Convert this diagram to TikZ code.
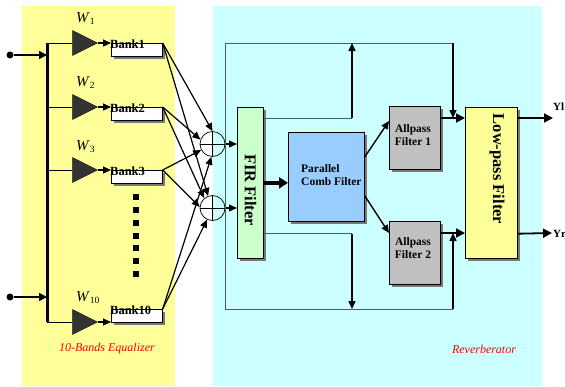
\documentclass[tikz,border=0pt]{standalone}
\usepackage{fontspec}
\setmainfont{Liberation Serif}
\usetikzlibrary{arrows.meta,shapes.geometric,shadows}
\definecolor{eqyellow}{RGB}{255,255,153}
\definecolor{revcyan}{RGB}{204,255,255}
\definecolor{firgreen}{RGB}{204,255,204}
\definecolor{combblue}{RGB}{153,204,255}
\definecolor{apgray}{RGB}{192,192,192}
\definecolor{loopcol}{RGB}{64,96,96}
\definecolor{shadowgray}{RGB}{120,120,120}
\begin{document}
\begin{tikzpicture}[x=1pt,y=-1pt,
  arr/.style={-{Triangle[length=8pt,width=7pt]}, line width=1.2pt},
  bigarr/.style={-{Triangle[length=9pt,width=9pt]}, line width=1.8pt},
  shbox/.style={draw=black, line width=0.7pt, inner sep=0pt, anchor=north west,
     drop shadow={shadow xshift=3pt, shadow yshift=-3pt, fill=shadowgray, opacity=1}},
  bankbox/.style={shbox, fill=white, minimum width=51pt, minimum height=13pt},
  banktxt/.style={font=\bfseries\fontsize{12.5}{13}\selectfont, inner sep=0pt, anchor=base west},
  gain/.style={isosceles triangle, isosceles triangle stretches, fill={rgb,255:red,51;green,51;blue,51},
     draw=black, line width=0.4pt, minimum width=25pt, minimum height=25pt, inner sep=0pt, anchor=apex},
  wlab/.style={font=\fontsize{15}{16}\selectfont, inner sep=0pt, anchor=base west},
  adder/.style={circle, draw=black, line width=0.7pt, minimum size=25pt, inner sep=0pt},
  rottxt/.style={rotate=-90, font=\bfseries\fontsize{16.5}{17}\selectfont, inner sep=0pt},
  boxtxt/.style={font=\bfseries\fontsize{11.5}{13.5}\selectfont, inner sep=0pt, align=left},
  loopline/.style={draw=loopcol, line width=1pt},
  redlab/.style={text=red, font=\itshape\fontsize{12}{12}\selectfont, inner sep=0pt},
  dot/.style={circle, fill=black, inner sep=0pt, minimum size=7pt}
]
\useasboundingbox (0,0) rectangle (565,386);
\fill[white] (0,0) rectangle (565,386);
\fill[eqyellow] (22,6) rectangle (175,386);
\fill[revcyan] (213,6) rectangle (542,386);

% ---------------- Equalizer ----------------
\node[dot] (in1) at (10,55) {};
\node[dot] (in2) at (10,297) {};
\coordinate (bt) at (47,43);
\coordinate (bb) at (47,322);
\coordinate (j1) at (47,55);
\coordinate (j2) at (47,297);
\draw[line width=3pt] (bt) -- (bb);
\draw[-{Triangle[length=8pt,width=8pt]}, line width=1.6pt] (in1) -- (j1);
\draw[-{Triangle[length=8pt,width=8pt]}, line width=1.6pt] (in2) -- (j2);

\foreach \n/\y/\ty/\lab/\sub/\wy in {1/43/43/Bank1/1/22, 2/107/107/Bank2/2/86, 3/170/170/Bank3/3/150, 10/322/309/Bank10/10/301}{
  \node[gain] (g\n) at (98,\y) {};
  \draw[line width=0.9pt] (47,\y) -- (g\n.lower side);
  \node[bankbox] (b\n) at (111,\ty) {};
  \draw[-{Triangle[length=8pt,width=7pt]}, line width=1.1pt] (g\n.apex) -- (b\n.west |- g\n.apex);
  \node[banktxt] (bt\n) at (110,\ty+5.5) {\lab};
  \node[wlab] (w\n) at (76,\wy) {\textit{W}\textsubscript{\fontsize{9.5}{9.5}\selectfont\sub}};
}

\foreach \y in {197,210,223,236,248,261,274}{
  \fill[black] (133,\y-3) rectangle ++(6,6);
}

\node[redlab] (eqlbl) at (107,349) {10-Bands Equalizer};

% ---------------- Adders ----------------
\node[adder] (c1) at (212.5,144) {};
\node[adder] (c2) at (212.5,208) {};
\draw[line width=0.7pt] (c1.north) -- (c1.south) (c1.west) -- (c1.east);
\draw[line width=0.7pt] (c2.north) -- (c2.south) (c2.west) -- (c2.east);

\draw[arr] (b1.north east) -- (c1.north);
\draw[arr] (b1.north east) -- (c2.110);
\draw[arr] (b2.north east) -- (c1.160);
\draw[arr] (b2.north east) -- (c2.130);
\draw[arr] (b3.north east) -- (c1.208);
\draw[arr] (b3.north east) -- (c2.175);
\draw[arr] (b10.north east) -- (c1.265);
\draw[arr] (b10.north east) -- (c2.245);

% ---------------- Reverberator ----------------
\node[shbox, fill=firgreen, minimum width=26pt, minimum height=151pt] (fir) at (237,107) {};
\node[rottxt] (firt) at (250.5,190) {FIR Filter};
\node[shbox, fill=combblue, minimum width=76pt, minimum height=89pt] (comb) at (288,132) {};
\node[boxtxt, anchor=west] (combt) at (301,175) {Parallel\\Comb Filter};
\node[shbox, fill=apgray, minimum width=51pt, minimum height=63pt] (ap1) at (389,106) {};
\node[boxtxt, align=center] (ap1t) at (413,135) {Allpass\\Filter 1};
\node[shbox, fill=apgray, minimum width=51pt, minimum height=63pt] (ap2) at (389,221) {};
\node[boxtxt, align=center] (ap2t) at (413,248) {Allpass\\Filter 2};
\node[shbox, fill=eqyellow, minimum width=52pt, minimum height=151pt] (lp) at (465,107) {};
\node[rottxt] (lpt) at (497,169) {Low-pass Filter};

% adders to FIR
\draw[arr] (c1.east) -- (c1.east -| fir.west);
\draw[arr] (c2.east) -- (c2.east -| fir.west);

% outer loop
\coordinate (lt) at (225,43);
\coordinate (lb) at (225,309);
\coordinate (ltr) at (453,43);
\coordinate (lbr) at (453,309);
\coordinate (ut) at (352,43);
\coordinate (ub) at (352,309);
\draw[loopline] (lt) -- (lb);
\draw[loopline] (lt) -- (ltr);
\draw[loopline] (lb) -- (lbr);

% FIR to loop
\coordinate (fo1) at ([yshift=-11pt]fir.north east);
\coordinate (fo2) at ([yshift=25pt]fir.south east);
\draw[loopline] (fo1) -- (fo1 -| ut);
\draw[loopline] (fo2) -- (fo2 -| ub);
\draw[arr, line width=1.5pt] (fo1 -| ut) -- (ut);
\draw[arr, line width=1.5pt] (fo2 -| ub) -- (ub);

% FIR to comb
\draw[-{Triangle[length=9pt,width=11pt]}, line width=3.5pt] (fir.east) -- (fir.east -| comb.west);

% comb to allpass
\draw[arr, line width=1.4pt] ([yshift=-25pt]comb.north east) -- ([yshift=-15pt]ap1.north west);
\draw[arr, line width=1.4pt] ([yshift=26pt]comb.south east) -- ([yshift=-12pt]ap2.north west);

% allpass to low-pass
\coordinate (a1o) at ([yshift=-12pt]ap1.north east);
\coordinate (a2o) at ([yshift=-12pt]ap2.north east);
\draw[bigarr] (a1o) -- (a1o -| lp.west);
\draw[bigarr] (a2o) -- (a2o -| lp.west);
\draw[arr, line width=1.5pt] (ltr) -- (ltr |- a1o);
\draw[arr, line width=1.5pt] (lbr) -- (lbr |- a2o);

% outputs
\coordinate (lo1) at ([yshift=-11pt]lp.north east);
\coordinate (lo2) at ([yshift=25pt]lp.south east);
\coordinate (yl) at (553,118);
\coordinate (yr) at (552,233);
\draw[bigarr] (lo1) -- (yl);
\draw[bigarr] (lo2) -- (yr);
\node[font=\bfseries\fontsize{11}{12}\selectfont, inner sep=0pt, anchor=west] (ylt) at (553,107) {Yl};
\node[font=\bfseries\fontsize{11}{12}\selectfont, inner sep=0pt, anchor=west] (yrt) at (553,234) {Yr};

\node[redlab] (revlbl) at (484,349) {Reverberator};
\end{tikzpicture}
\end{document}
